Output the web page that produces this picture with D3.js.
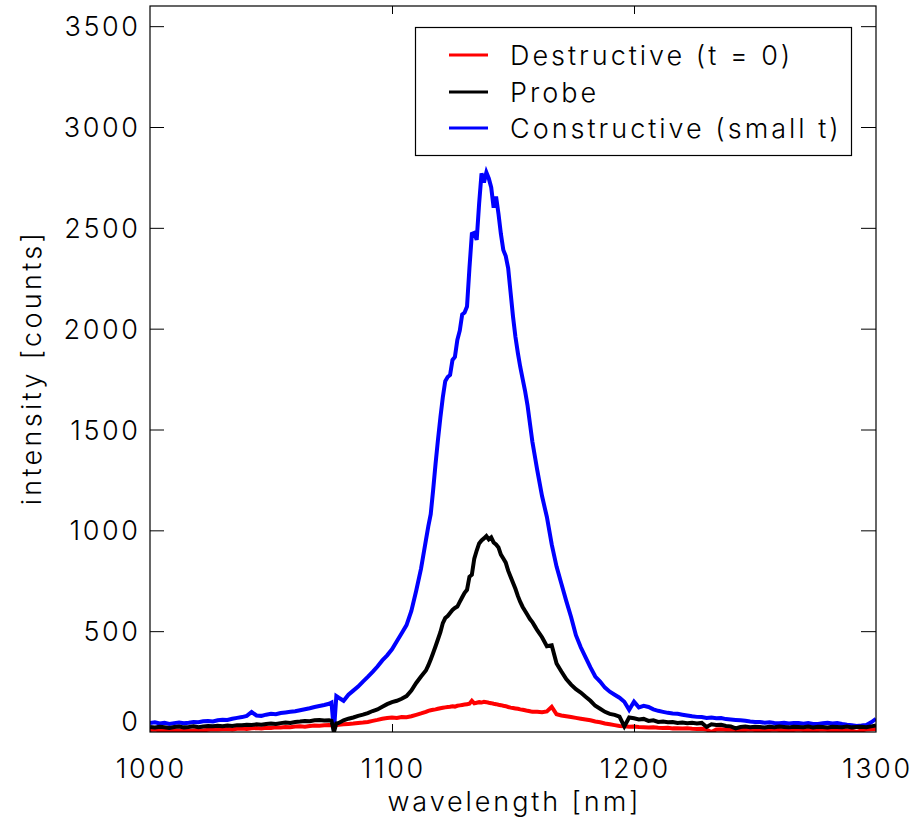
<!DOCTYPE html>
<html>
<head>
<meta charset="utf-8">
<script src="https://cdn.jsdelivr.net/npm/d3@7"></script>
<style>
  html, body { margin: 0; padding: 0; background: #fff; }
  svg text { font-family: Inter, "DejaVu Sans", sans-serif; font-weight: 300; fill: #000; }
</style>
</head>
<body>
<svg id="chart" width="915" height="829"></svg>
<script>
// Spectrometer wavelength grid [nm]
const wavelength = [
  1000,1002,1004,1006,1008,1010,1012,1014,1016,1018,1020,1022,1024,1026,1028,1030,1032,1034,1036,1038,
  1040,1042,1044,1046,1048,1050,1052,1054,1056,1058,1060,1062,1064,1066,1068,1070,1072,1074,
  1075,1076,1077,
  1078,1080,1082,1084,1086,1088,1090,1092,1094,1096,1098,1100,1102,1104,1106,1108,1110,1112,1114,
  1115,1116,1117,1118,1119,1120,1121,1122,1123,1124,1125,1126,1127,1128,1129,1130,1131,1132,1133,1134,
  1135,1136,1137,1138,1139,1140,1141,1142,1143,1144,1145,1146,1147,1148,1149,1150,1151,1152,1153,1154,
  1155,1156,1157,1158,1159,1160,
  1162,1164,1166,1168,1170,1172,1174,1176,1178,1180,1182,1184,1186,1188,1190,1192,1194,1196,1198,1200,
  1202,1204,1206,1208,1210,1212,1214,1216,1218,1220,1222,1224,1226,1228,1230,1232,1234,1236,1238,1240,
  1242,1244,1246,1248,1250,1252,1254,1256,1258,1260,1262,1264,1266,1268,1270,1272,1274,1276,1278,1280,
  1282,1284,1286,1288,1290,1292,1294,1296,1298,1300
];

// Constructive interference (small t) [counts]
const constructive = [
  45,48,42,46,40,44,47,43,46,50,48,53,55,52,58,61,60,66,70,74,
  80,99,82,80,86,90,88,94,97,100,103,108,113,118,124,129,134,140,
  146,5,178,
  170,155,185,205,225,250,273,298,325,355,380,410,450,490,530,600,700,810,950,
  1020,1080,1200,1330,1450,1560,1660,1740,1760,1770,1845,1860,1944,1990,2070,2080,2110,2300,2470,2475,
  2440,2620,2770,2725,2775,2745,2700,2600,2655,2570,2470,2390,2360,2300,2180,2060,1960,1880,1810,1750,
  1690,1620,1530,1440,1370,1300,
  1170,1066,930,820,735,650,570,480,420,370,320,275,250,220,200,185,170,150,110,150,
  122,130,124,112,105,100,95,92,90,86,82,78,75,74,70,72,68,69,64,62,
  60,58,56,52,50,50,46,48,45,44,46,42,45,45,41,44,40,40,43,46,
  42,45,40,36,34,30,32,35,48,65
];

// Probe [counts]
const probe = [
  25,22,26,24,20,25,27,23,25,28,24,27,30,28,31,29,32,30,34,33,
  36,35,38,36,40,42,40,44,47,45,50,52,55,53,58,60,57,58,
  55,0,42,
  45,58,66,72,80,86,94,104,112,125,138,148,155,165,178,205,243,275,305,
  330,360,392,425,460,495,540,565,575,590,605,615,622,645,668,690,705,770,780,860,
  900,935,950,960,972,955,965,940,930,915,880,860,840,800,770,740,710,675,645,620,
  600,580,560,545,525,505,
  470,425,430,340,300,262,235,212,196,175,155,130,115,100,90,85,76,28,72,68,
  62,65,55,58,50,52,48,50,45,47,44,46,42,45,25,38,35,36,30,28,
  18,25,27,24,26,25,22,26,24,27,25,23,26,25,24,27,23,26,25,22,
  26,25,24,27,23,25,26,24,28,32
];

// Destructive interference (t = 0) [counts]
const destructive = [
  10,12,8,10,7,9,6,8,5,8,10,8,11,13,12,14,15,13,16,17,
  15,18,20,18,21,20,23,22,25,24,27,28,26,30,32,31,34,35,
  33,30,34,
  36,38,40,42,45,47,50,55,60,66,69,72,70,74,73,78,85,92,100,
  105,108,110,112,115,118,120,122,124,125,128,126,130,132,134,136,138,140,155,142,
  145,148,146,150,148,145,143,140,138,135,133,130,128,124,121,119,117,115,112,110,
  108,105,103,100,101,100,
  98,102,125,88,82,78,74,70,66,62,58,52,48,42,38,34,30,28,26,27,
  25,24,22,23,21,20,21,18,19,17,18,16,15,16,12,0,12,13,11,12,
  10,11,10,12,10,9,11,10,12,10,9,11,10,12,10,9,11,10,12,10,
  9,11,10,8,6,0,8,12,14,15
];

const xTicks = [1000, 1100, 1200, 1300];
const yTicks = [0, 500, 1000, 1500, 2000, 2500, 3000, 3500];

const seriesNames = ["Destructive (t = 0)", "Probe", "Constructive (small t)"];
const seriesColors = ["#ff0000", "#000000", "#0000ff"];

const svg = d3.select("#chart");
const plotLeft = 150, plotRight = 876, plotTop = 6, plotBottom = 732;
const fontSize = 27;

const x = d3.scaleLinear().domain([1000, 1300]).range([plotLeft, plotRight]);
const y = d3.scaleLinear().domain([0, 3600]).range([plotBottom, plotTop]);

svg.append("defs").append("clipPath").attr("id", "plotClip")
  .append("rect").attr("x", plotLeft).attr("y", plotTop)
  .attr("width", plotRight - plotLeft).attr("height", plotBottom - plotTop);

// Spectra
const line = d3.line().x(d => x(d[0])).y(d => y(d[1]));
const spectra = [
  { values: constructive, color: seriesColors[2] },
  { values: destructive, color: seriesColors[0] },
  { values: probe, color: seriesColors[1] }
];
const gLines = svg.append("g").attr("clip-path", "url(#plotClip)");
spectra.forEach(s => {
  gLines.append("path")
    .datum(wavelength.map((w, i) => [w, s.values[i]]))
    .attr("d", line)
    .attr("fill", "none")
    .attr("stroke", s.color)
    .attr("stroke-width", 4)
    .attr("stroke-linejoin", "miter");
});

// Axes: ticks on all four sides, pointing inward
const xInner = xTicks.filter(v => v > 1000 && v < 1300);
const yInner = yTicks.filter(v => v > 0);
svg.append("g").attr("transform", `translate(0,${plotBottom})`)
  .call(d3.axisBottom(x).tickValues(xInner).tickSize(-8).tickFormat(""))
  .call(g => g.select(".domain").remove());
svg.append("g").attr("transform", `translate(0,${plotTop})`)
  .call(d3.axisTop(x).tickValues(xInner).tickSize(-8).tickFormat(""))
  .call(g => g.select(".domain").remove());
svg.append("g").attr("transform", `translate(${plotLeft},0)`)
  .call(d3.axisLeft(y).tickValues(yInner).tickSize(-14).tickFormat(""))
  .call(g => g.select(".domain").remove());
svg.append("g").attr("transform", `translate(${plotRight},0)`)
  .call(d3.axisRight(y).tickValues(yInner).tickSize(-15).tickFormat(""))
  .call(g => g.select(".domain").remove());
svg.selectAll(".tick line").attr("stroke", "#000").attr("stroke-width", 1);

// Plot frame
svg.append("rect")
  .attr("x", plotLeft).attr("y", plotTop)
  .attr("width", plotRight - plotLeft).attr("height", plotBottom - plotTop)
  .attr("fill", "none").attr("stroke", "#000").attr("stroke-width", 1.2);

// Tick labels (wide tracking, trailing spacing compensated)
const tickSpacing = 2.6;
svg.append("g").selectAll("text").data(xTicks).join("text")
  .attr("x", d => x(d) + tickSpacing / 2).attr("y", 778)
  .attr("text-anchor", "middle").attr("font-size", fontSize)
  .attr("letter-spacing", tickSpacing)
  .text(d => d);
svg.append("g").selectAll("text").data(yTicks).join("text")
  .attr("x", 138 + tickSpacing)
  .attr("y", d => d === 0 ? plotBottom - 1 : y(d) + 10)
  .attr("text-anchor", "end").attr("font-size", fontSize)
  .attr("letter-spacing", tickSpacing)
  .text(d => d);

// Axis titles
const titleSpacing = 2.9;
svg.append("text")
  .attr("x", (plotLeft + plotRight) / 2 + titleSpacing / 2).attr("y", 811)
  .attr("text-anchor", "middle").attr("font-size", fontSize)
  .attr("letter-spacing", titleSpacing)
  .text("wavelength [nm]");
svg.append("text")
  .attr("transform", `translate(41,${(plotTop + plotBottom) / 2 - titleSpacing / 2}) rotate(-90)`)
  .attr("text-anchor", "middle").attr("font-size", fontSize)
  .attr("letter-spacing", 3.3)
  .text("intensity [counts]");

// Legend
const legend = svg.append("g");
legend.append("rect")
  .attr("x", 415.5).attr("y", 27.5).attr("width", 436).attr("height", 128)
  .attr("fill", "#fff").attr("stroke", "#000").attr("stroke-width", 1.2);
const rowY = [55, 92, 128];
seriesNames.forEach((name, i) => {
  legend.append("line")
    .attr("x1", 449).attr("x2", 488).attr("y1", rowY[i]).attr("y2", rowY[i])
    .attr("stroke", seriesColors[i]).attr("stroke-width", 3);
  legend.append("text")
    .attr("x", 510).attr("y", rowY[i] + 10)
    .attr("font-size", fontSize)
    .attr("letter-spacing", 3)
    .text(name);
});
</script>
</body>
</html>
